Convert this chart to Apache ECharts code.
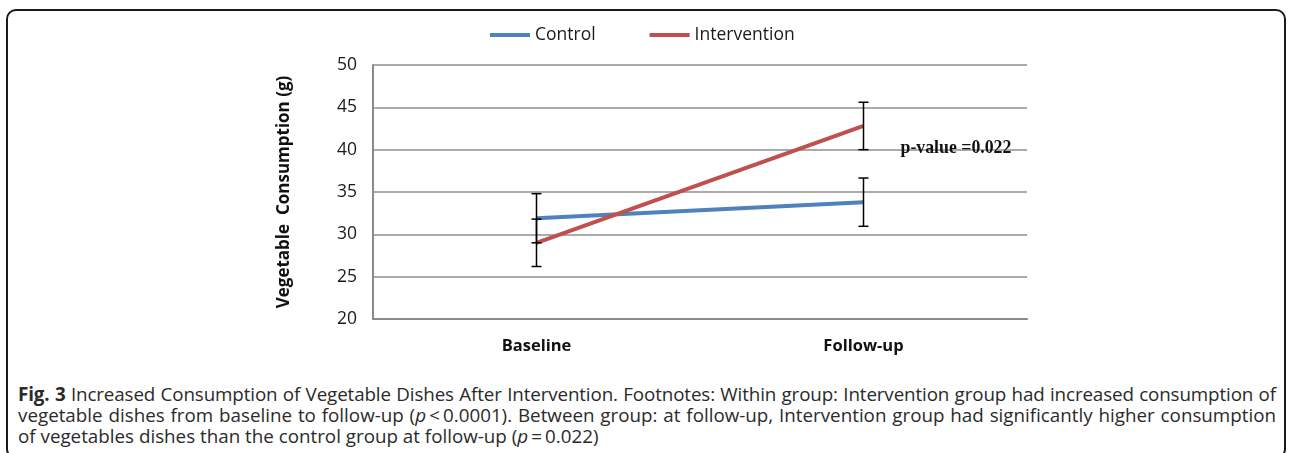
<!DOCTYPE html>
<html>
<head>
<meta charset="utf-8">
<script src="https://cdn.jsdelivr.net/npm/echarts@6/dist/echarts.min.js"></script>
<style>
  html, body { margin: 0; padding: 0; background: #fff; }
  body { width: 1292px; height: 453px; position: relative; overflow: hidden; }
  #frame { position: absolute; left: 6px; top: 9px; width: 1280px; height: 450px;
           border: 2px solid #1a1a1a; border-radius: 10px; box-sizing: border-box; }
  #chart { position: absolute; left: 0; top: 0; width: 1292px; height: 370px; }
  #caption { position: absolute; left: 18px; top: 384px; width: 1258px;
             font-family: "Open Sans", "Noto Sans", sans-serif; font-size: 18.8px;
             color: #2a2a2a; line-height: 21px; letter-spacing: 0; }
  #caption div { white-space: nowrap; }
  #caption .j { text-align: justify; text-align-last: justify; }
  #caption .t { letter-spacing: -0.12px; }
</style>
</head>
<body>
<div id="frame"></div>
<div id="chart"></div>
<div id="caption">
  <div class="j t"><b>Fig. 3</b> Increased Consumption of Vegetable Dishes After Intervention. Footnotes: Within group: Intervention group had increased consumption of</div>
  <div class="j">vegetable dishes from baseline to follow-up (<i>p</i>&thinsp;&lt;&thinsp;0.0001). Between group: at follow-up, Intervention group had significantly higher consumption</div>
  <div>of vegetables dishes than the control group at follow-up (<i>p</i>&thinsp;=&thinsp;0.022)</div>
</div>
<script>
const categories = ['Baseline', 'Follow-up'];
const controlMean = [31.9, 33.8];
const controlErr = [2.9, 2.85];
const interventionMean = [29.0, 42.8];
const interventionErr = [2.8, 2.8];
const yTicks = { min: 20, max: 50, interval: 5 };
const annotationText = 'p-value =0.022';
const annotationValue = 40.2;

const controlColor = '#4F81BD';
const interventionColor = '#C0504D';

function errData(mean, err) {
  return mean.map((m, i) => [i, m - err[i], m + err[i]]);
}

function errRender(params, api) {
  const x = api.value(0);
  const lo = api.coord([x, api.value(1)]);
  const hi = api.coord([x, api.value(2)]);
  const hw = 5;
  const style = { stroke: '#000', lineWidth: 1.5 };
  return {
    type: 'group',
    children: [
      { type: 'line', shape: { x1: hi[0], y1: hi[1], x2: lo[0], y2: lo[1] }, style },
      { type: 'line', shape: { x1: hi[0] - hw, y1: hi[1], x2: hi[0] + hw, y2: hi[1] }, style },
      { type: 'line', shape: { x1: lo[0] - hw, y1: lo[1], x2: lo[0] + hw, y2: lo[1] }, style }
    ]
  };
}

const chart = echarts.init(document.getElementById('chart'));
const font = '"Open Sans", "Noto Sans", sans-serif';
chart.setOption({
  animation: false,
  textStyle: { fontFamily: font },
  legend: {
    left: 485, top: 21,
    itemWidth: 40, itemHeight: 4, itemGap: 54,
    icon: 'rect',
    textStyle: { fontSize: 17.5, color: '#1a1a1a', fontFamily: font, padding: [0, 0, 0, 0] },
    data: ['Control', 'Intervention']
  },
  grid: { left: 373, right: 265, top: 65, bottom: 51 },
  xAxis: {
    type: 'category',
    data: categories,
    boundaryGap: true,
    axisLine: { lineStyle: { color: '#8a8a8a', width: 2 } },
    axisTick: { show: false },
    axisLabel: { margin: 19, fontSize: 16.5, fontWeight: 'bold', color: '#111', fontFamily: font }
  },
  yAxis: {
    type: 'value',
    min: yTicks.min, max: yTicks.max, interval: yTicks.interval,
    name: 'Vegetable  Consumption (g)',
    nameLocation: 'middle',
    nameGap: 80,
    nameTextStyle: { fontSize: 17, fontWeight: 'bold', color: '#111', fontFamily: font },
    axisLine: { show: true, lineStyle: { color: '#8a8a8a', width: 2 } },
    axisTick: { show: false },
    axisLabel: { margin: 16, fontSize: 17.5, color: '#1a1a1a', fontFamily: font },
    splitLine: { lineStyle: { color: '#8f8f8f', width: 1.5 } }
  },
  series: [
    {
      name: 'Control', type: 'line', data: controlMean,
      symbol: 'none', lineStyle: { color: controlColor, width: 4 },
      itemStyle: { color: controlColor }, z: 3
    },
    {
      name: 'Intervention', type: 'line', data: interventionMean,
      symbol: 'none', lineStyle: { color: interventionColor, width: 4 },
      itemStyle: { color: interventionColor }, z: 3
    },
    {
      name: 'ControlErr', type: 'custom', renderItem: errRender,
      data: errData(controlMean, controlErr), z: 4, silent: true
    },
    {
      name: 'InterventionErr', type: 'custom', renderItem: errRender,
      data: errData(interventionMean, interventionErr), z: 4, silent: true
    }
  ]
});

const p = chart.convertToPixel({ gridIndex: 0 }, [1, annotationValue]);
chart.setOption({
  graphic: [{
    type: 'text',
    x: p[0] + 37, y: p[1],
    style: {
      text: annotationText,
      font: 'bold 17.8px "Liberation Serif", "Times New Roman", serif',
      fill: '#111',
      verticalAlign: 'middle'
    },
    z: 10
  }]
});
</script>
</body>
</html>
